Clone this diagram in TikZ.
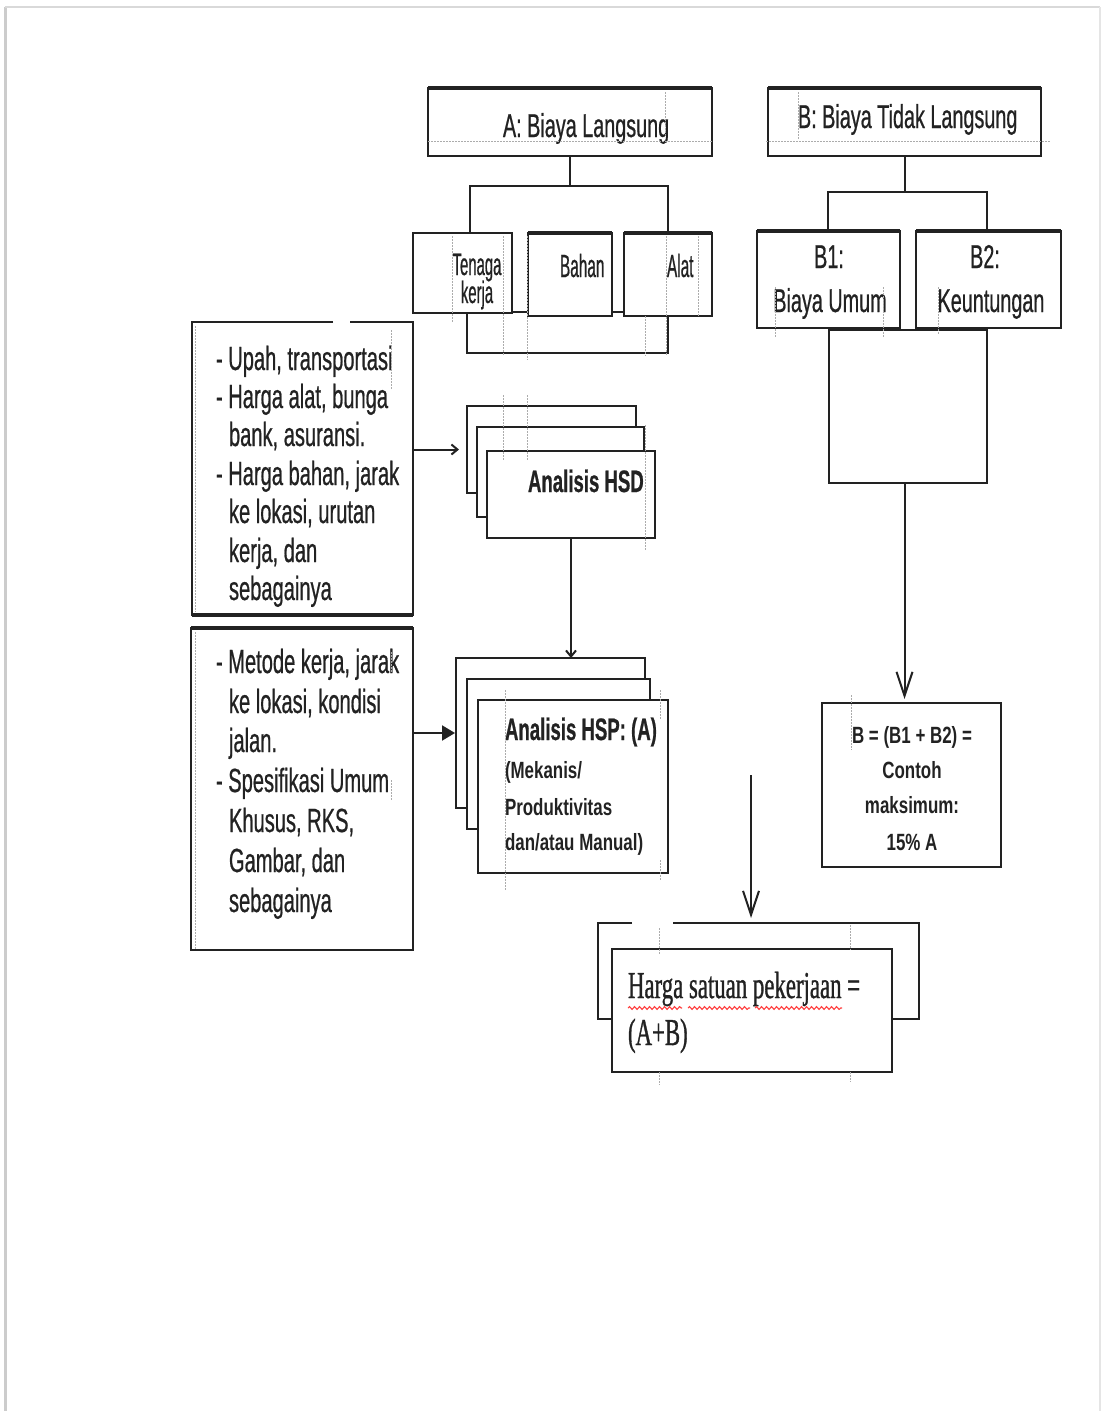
\documentclass[tikz,border=0pt]{standalone}
\usepackage{fontspec}
\setmainfont{Liberation Sans}
\newfontfamily\nA[FakeStretch=0.48,FakeBold=0.6]{Liberation Sans}
\newfontfamily\nB[FakeStretch=0.6,FakeBold=0.6]{Liberation Sans}
\newfontfamily\nC[FakeStretch=0.72]{Liberation Sans}
\newfontfamily\sB[FakeStretch=0.6,FakeBold=0.8]{Liberation Serif}
\usetikzlibrary{arrows.meta,decorations.pathmorphing}
\definecolor{ink}{HTML}{222222}
\newcommand\fBig{\nB\fontsize{33.5}{40}\selectfont}
\newcommand\fTitle{\nB\fontsize{33}{40}\selectfont}
\newcommand\fSub{\nA\fontsize{32}{36}\selectfont}
\newcommand\fHead{\nB\bfseries\fontsize{31}{36}\selectfont}
\newcommand\fSmallB{\nC\bfseries\fontsize{23.5}{36}\selectfont}
\newcommand\fSer{\sB\fontsize{38}{45}\selectfont}
\begin{document}
\begin{tikzpicture}[x=1pt,y=-1pt,
  box/.style={draw=ink, line width=2.2pt, fill=white, anchor=north west, inner sep=0pt, outer sep=0pt},
  edge/.style={draw=ink, line width=2.2pt},
  thick top/.style={draw=ink, line width=4.5pt},
  txt/.style={inner sep=0pt, outer sep=0pt, text=ink, anchor=base west},
  ctxt/.style={txt, anchor=base},
  link/.style={draw=ink, line width=2pt},
  barb/.style={-{Straight Barb[length=24pt,width=16pt,line width=2pt]}},
  smallbarb/.style={-{Straight Barb[length=6pt,width=10pt,line width=2pt]}},
  filltip/.style={-{Triangle[length=13pt,width=15pt]}},
  guide/.style={draw=gray!65, line width=0.9pt, dash pattern=on 1.5pt off 1.5pt},
  wavy/.style={draw=red!75, line width=1.1pt, decorate, decoration={snake, amplitude=1.4pt, segment length=5pt}}
]
\useasboundingbox (0,0) rectangle (1102,1411);
\fill[white] (0,0) rectangle (1102,1411);
% page frame
\draw[gray!40, line width=3pt] (5,1411) -- (5,7);
\draw[gray!30, line width=2pt] (5,7) -- (1100,7);
\draw[gray!20, line width=1.5pt] (1100,7) -- (1100,1411);

% ---------- A: direct cost ----------
\node[box, minimum width=284pt, minimum height=68pt] (Abox) at (428,88) {};
\draw[thick top] (Abox.north west) -- (Abox.north east);
\node[txt] (Atxt) at (503,137) {\fTitle A: Biaya Langsung};

\node[box, minimum width=201pt, minimum height=41pt] (Asub) at (467,312) {};
\node[box, minimum width=99pt, minimum height=80pt] (tenaga) at (413,233) {};
\node[box, minimum width=84pt, minimum height=83pt] (bahan) at (528,233) {};
\node[box, minimum width=88pt, minimum height=83pt] (alat) at (624,233) {};
\draw[thick top] (bahan.north west) -- (bahan.north east);
\draw[thick top] (alat.north west) -- (alat.north east);
\node[ctxt] (tenagaA) at (477,275) {\nA\fontsize{31}{36}\selectfont Tenaga};
\node[ctxt] (tenagaB) at (477,303) {\nA\fontsize{31}{36}\selectfont kerja};
\node[txt] (bahanT) at (560,277) {\fSub Bahan};
\node[txt] (alatT) at (667,277) {\fSub Alat};

\coordinate (aL) at (470,186);
\coordinate (aR) at (668,186);
\draw[link] (Abox.south) -- (Abox.south |- aL);
\draw[link] (tenaga.north -| aL) -- (aL) -- (aR) -- (alat.north -| aR);

% ---------- B: indirect cost ----------
\node[box, minimum width=273pt, minimum height=68pt] (Bbox) at (768,88) {};
\draw[thick top] (Bbox.north west) -- (Bbox.north east);
\node[txt] (Btxt) at (798,128) {\fTitle B: Biaya Tidak Langsung};

\node[box, minimum width=158pt, minimum height=153pt] (Bsub) at (829,330) {};
\node[box, minimum width=143pt, minimum height=97pt] (b1) at (757,231) {};
\node[box, minimum width=145pt, minimum height=97pt] (b2) at (916,231) {};
\draw[thick top] (b1.north west) -- (b1.north east);
\draw[thick top] (b2.north west) -- (b2.north east);
\node[ctxt] (b1a) at (829,268) {\fTitle B1:};
\node[ctxt] (b1b) at (830,312) {\fTitle Biaya Umum};
\node[ctxt] (b2a) at (985,268) {\fTitle B2:};
\node[ctxt] (b2b) at (991,312) {\fTitle Keuntungan};

\coordinate (bL) at (828,192);
\coordinate (bR) at (987,192);
\draw[link] (Bbox.south) -- (Bbox.south |- bL);
\draw[link] (b1.north -| bL) -- (bL) -- (bR) -- (b2.north -| bR);

\node[box, minimum width=179pt, minimum height=164pt] (bres) at (822,703) {};
\node[ctxt] (br1) at (912,743) {\fSmallB B = (B1 + B2) =};
\node[ctxt] (br2) at (912,778) {\fSmallB Contoh};
\node[ctxt] (br3) at (912,813) {\fSmallB maksimum:};
\node[ctxt] (br4) at (912,850) {\fSmallB 15\% A};
\draw[link, barb, shorten >=4pt] (Bsub.south -| Bbox.south) -- (bres.north -| Bbox.south);

% ---------- left box 1 ----------
\node[box, draw=none, minimum width=221pt, minimum height=293pt] (lb1) at (192,322) {};
\draw[edge] ([xshift=141pt]lb1.north west) -- (lb1.north west) -- (lb1.south west) -- (lb1.south east) -- (lb1.north east) -- ([xshift=-63pt]lb1.north east);
\draw[thick top] (lb1.south west) -- (lb1.south east);
\node[txt] (u1) at (216,370) {\fBig - Upah, transportasi};
\node[txt] (u2) at (216,408) {\fBig - Harga alat, bunga};
\node[txt] (u3) at (229,446) {\fBig bank, asuransi.};
\node[txt] (u4) at (216,485) {\fBig - Harga bahan, jarak};
\node[txt] (u5) at (229,523) {\fBig ke lokasi, urutan};
\node[txt] (u6) at (229,562) {\fBig kerja, dan};
\node[txt] (u7) at (229,600) {\fBig sebagainya};

% ---------- HSD stack ----------
\node[box, minimum width=169pt, minimum height=87pt] (hsd1) at (467,406) {};
\node[box, minimum width=167pt, minimum height=90pt] (hsd2) at (477,427) {};
\node[box, minimum width=168pt, minimum height=87pt] (hsd3) at (487,451) {};
\node[txt] (hsdT) at (528,492) {\fHead Analisis HSD};
\draw[link, smallbarb, shorten >=8pt] (lb1.east |- hsd1.west) -- (hsd1.west);

% ---------- left box 2 ----------
\node[box, minimum width=222pt, minimum height=322pt] (lb2) at (191,628) {};
\draw[thick top] (lb2.north west) -- (lb2.north east);
\node[txt] (m1) at (216,673) {\fBig - Metode kerja, jarak};
\node[txt] (m2) at (229,713) {\fBig ke lokasi, kondisi};
\node[txt] (m3) at (229,752) {\fBig jalan.};
\node[txt] (m4) at (216,792) {\fBig - Spesifikasi Umum};
\node[txt] (m5) at (229,832) {\fBig Khusus, RKS,};
\node[txt] (m6) at (229,872) {\fBig Gambar, dan};
\node[txt] (m7) at (229,912) {\fBig sebagainya};

% ---------- HSP stack ----------
\node[box, minimum width=189pt, minimum height=150pt] (hsp1) at (456,658) {};
\node[box, minimum width=183pt, minimum height=150pt] (hsp2) at (467,679) {};
\node[box, minimum width=190pt, minimum height=173pt] (hsp3) at (478,700) {};
\node[txt] (hspT) at (505,740) {\fHead Analisis HSP: (A)};
\node[txt] (hsp4) at (505,778) {\fSmallB (Mekanis/};
\node[txt] (hsp5) at (505,815) {\fSmallB Produktivitas};
\node[txt] (hsp6) at (505,850) {\fSmallB dan/atau Manual)};
\draw[link, filltip, shorten >=1pt] (lb2.east |- hsp1.west) -- (hsp1.west);
\draw[link, smallbarb] (hsd3.south) -- (hsd3.south |- hsp1.north);

% ---------- result ----------
\node[box, draw=none, minimum width=321pt, minimum height=96pt] (hb1) at (598,923) {};
\draw[edge] ([xshift=34pt]hb1.north west) -- (hb1.north west) -- (hb1.south west) -- (hb1.south east) -- (hb1.north east) -- ([xshift=-246pt]hb1.north east);
\node[box, minimum width=280pt, minimum height=123pt] (hb2) at (612,949) {};
\node[txt] (h1) at (628,998) {\fSer Harga satuan pekerjaan =};
\node[txt] (h2) at (628,1045) {\fSer (A+B)};
\draw[wavy] (628,1008) -- (682,1008);
\draw[wavy] (688,1008) -- (750,1008);
\draw[wavy] (755,1008) -- (842,1008);
\coordinate (hs) at (751,775);
\draw[link, barb, shorten >=5pt] (hs) -- (hs |- hb1.north);

% ---------- dotted text-box guides ----------
\draw[guide] (428,141) -- (712,141);
\draw[guide] (665,92) -- (665,135);
\draw[guide] (766,141) -- (1050,141);
\draw[guide] (798,92) -- (798,140);
\draw[guide] (452,236) -- (452,322);
\draw[guide] (503,236) -- (503,355);
\draw[guide] (527,236) -- (527,360);
\draw[guide] (645,316) -- (645,356);
\draw[guide] (666,236) -- (666,356);
\draw[guide] (698,236) -- (698,316);
\draw[guide] (775,287) -- (775,337);
\draw[guide] (883,287) -- (883,337);
\draw[guide] (938,287) -- (938,334);
\draw[guide] (195,326) -- (195,612);
\draw[guide] (391,330) -- (391,390);
\draw[guide] (503,395) -- (503,460);
\draw[guide] (527,395) -- (527,460);
\draw[guide] (645,425) -- (645,550);
\draw[guide] (195,632) -- (195,950);
\draw[guide] (391,652) -- (391,672);
\draw[guide] (391,780) -- (391,800);
\draw[guide] (505,690) -- (505,890);
\draw[guide] (660,690) -- (660,720);
\draw[guide] (660,860) -- (660,880);
\draw[guide] (851,695) -- (851,750);
\draw[guide] (659,928) -- (659,955);
\draw[guide] (850,925) -- (850,950);
\draw[guide] (659,1072) -- (659,1085);
\draw[guide] (850,1072) -- (850,1082);
\end{tikzpicture}
\end{document}
